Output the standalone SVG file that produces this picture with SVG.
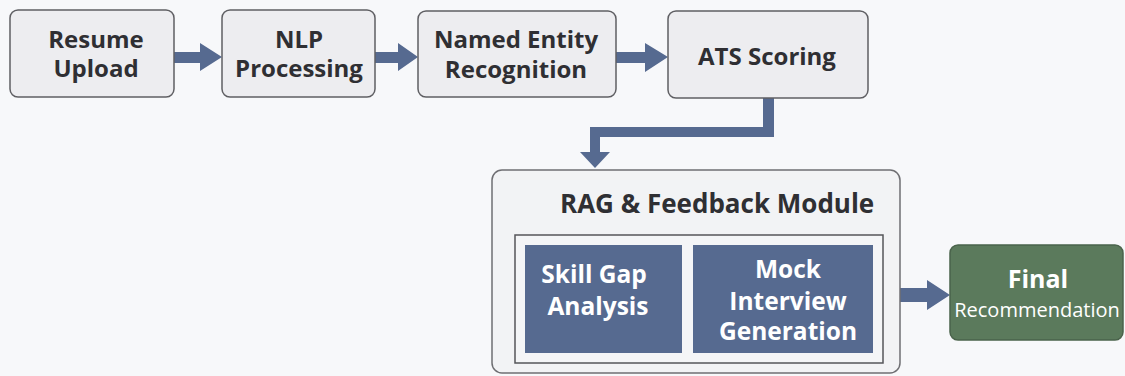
<svg xmlns="http://www.w3.org/2000/svg" width="1125" height="376" viewBox="0 0 1125 376">
<style>
.box{fill:#ededf0;stroke:#5f5f63;stroke-width:1.5}
.t{font-family:"Open Sans","Liberation Sans",sans-serif;font-weight:700;font-size:24px;fill:#2f2f33;text-anchor:middle}
.w{font-family:"Open Sans","Liberation Sans",sans-serif;font-weight:700;font-size:24.5px;fill:#ffffff;text-anchor:middle}
.blue{fill:#566a90}
.arr{fill:#566a90}
</style>
<rect width="1125" height="376" fill="#f7f8fa"/>
<g id="connectors">
<polygon class="arr" points="174,52 200,52 200,43 222,57 200,71 200,63 174,63"/>
<polygon class="arr" points="375,52 398,52 398,43 418,57 398,71 398,63 375,63"/>
<polygon class="arr" points="616,52 645,52 645,43 668,57 645,72 645,63 616,63"/>
<polygon class="arr" points="763,98 774,98 774,137 600,137 600,152 610,152 595,168 580,152 590,152 590,127 763,127"/>
<polygon class="arr" points="900,288 927,288 927,280 950,295 927,310 927,302 900,302"/>
</g>
<g id="resume-upload">
<rect class="box" x="10" y="10" width="164" height="87" rx="8"/>
<text class="t" x="96" y="48">Resume</text>
<text class="t" x="96" y="77">Upload</text>
</g>
<g id="nlp-processing">
<rect class="box" x="222" y="10" width="153" height="87" rx="8"/>
<text class="t" x="299" y="48">NLP</text>
<text class="t" x="299" y="77">Processing</text>
</g>
<g id="named-entity-recognition">
<rect class="box" x="418" y="11" width="198" height="86" rx="8"/>
<text class="t" x="516" y="48">Named Entity</text>
<text class="t" x="516" y="78">Recognition</text>
</g>
<g id="ats-scoring">
<rect class="box" x="668" y="11" width="200" height="87" rx="8"/>
<text class="t" x="767" y="65">ATS Scoring</text>
</g>
<g id="rag-feedback-module">
<rect x="492" y="170" width="408" height="203" rx="10" fill="#f2f3f5" stroke="#6f6f73" stroke-width="1.5"/>
<text class="t" x="560" y="213" style="text-anchor:start;font-size:26px">RAG &amp; Feedback Module</text>
<rect x="515" y="235" width="368" height="128" fill="#f4f5f7" stroke="#55565a" stroke-width="1.5"/>
</g>
<g id="skill-gap-analysis">
<rect class="blue" x="525" y="245" width="157" height="108"/>
<text class="w" x="594" y="283">Skill Gap</text>
<text class="w" x="598" y="315">Analysis</text>
</g>
<g id="mock-interview-generation">
<rect class="blue" x="693" y="245" width="180" height="108"/>
<text class="w" x="788" y="278">Mock</text>
<text class="w" x="788" y="310">Interview</text>
<text class="w" x="788" y="340">Generation</text>
</g>
<g id="final-recommendation">
<rect x="950" y="245" width="173" height="95" rx="8" fill="#5b7a5c" stroke="#4a634b" stroke-width="1.5"/>
<text class="w" x="1038" y="288" style="font-size:25px">Final</text>
<text x="1037" y="317" style="font-family:'Open Sans','Liberation Sans',sans-serif;font-size:20px;fill:#ffffff;text-anchor:middle">Recommendation</text>
</g>
</svg>
